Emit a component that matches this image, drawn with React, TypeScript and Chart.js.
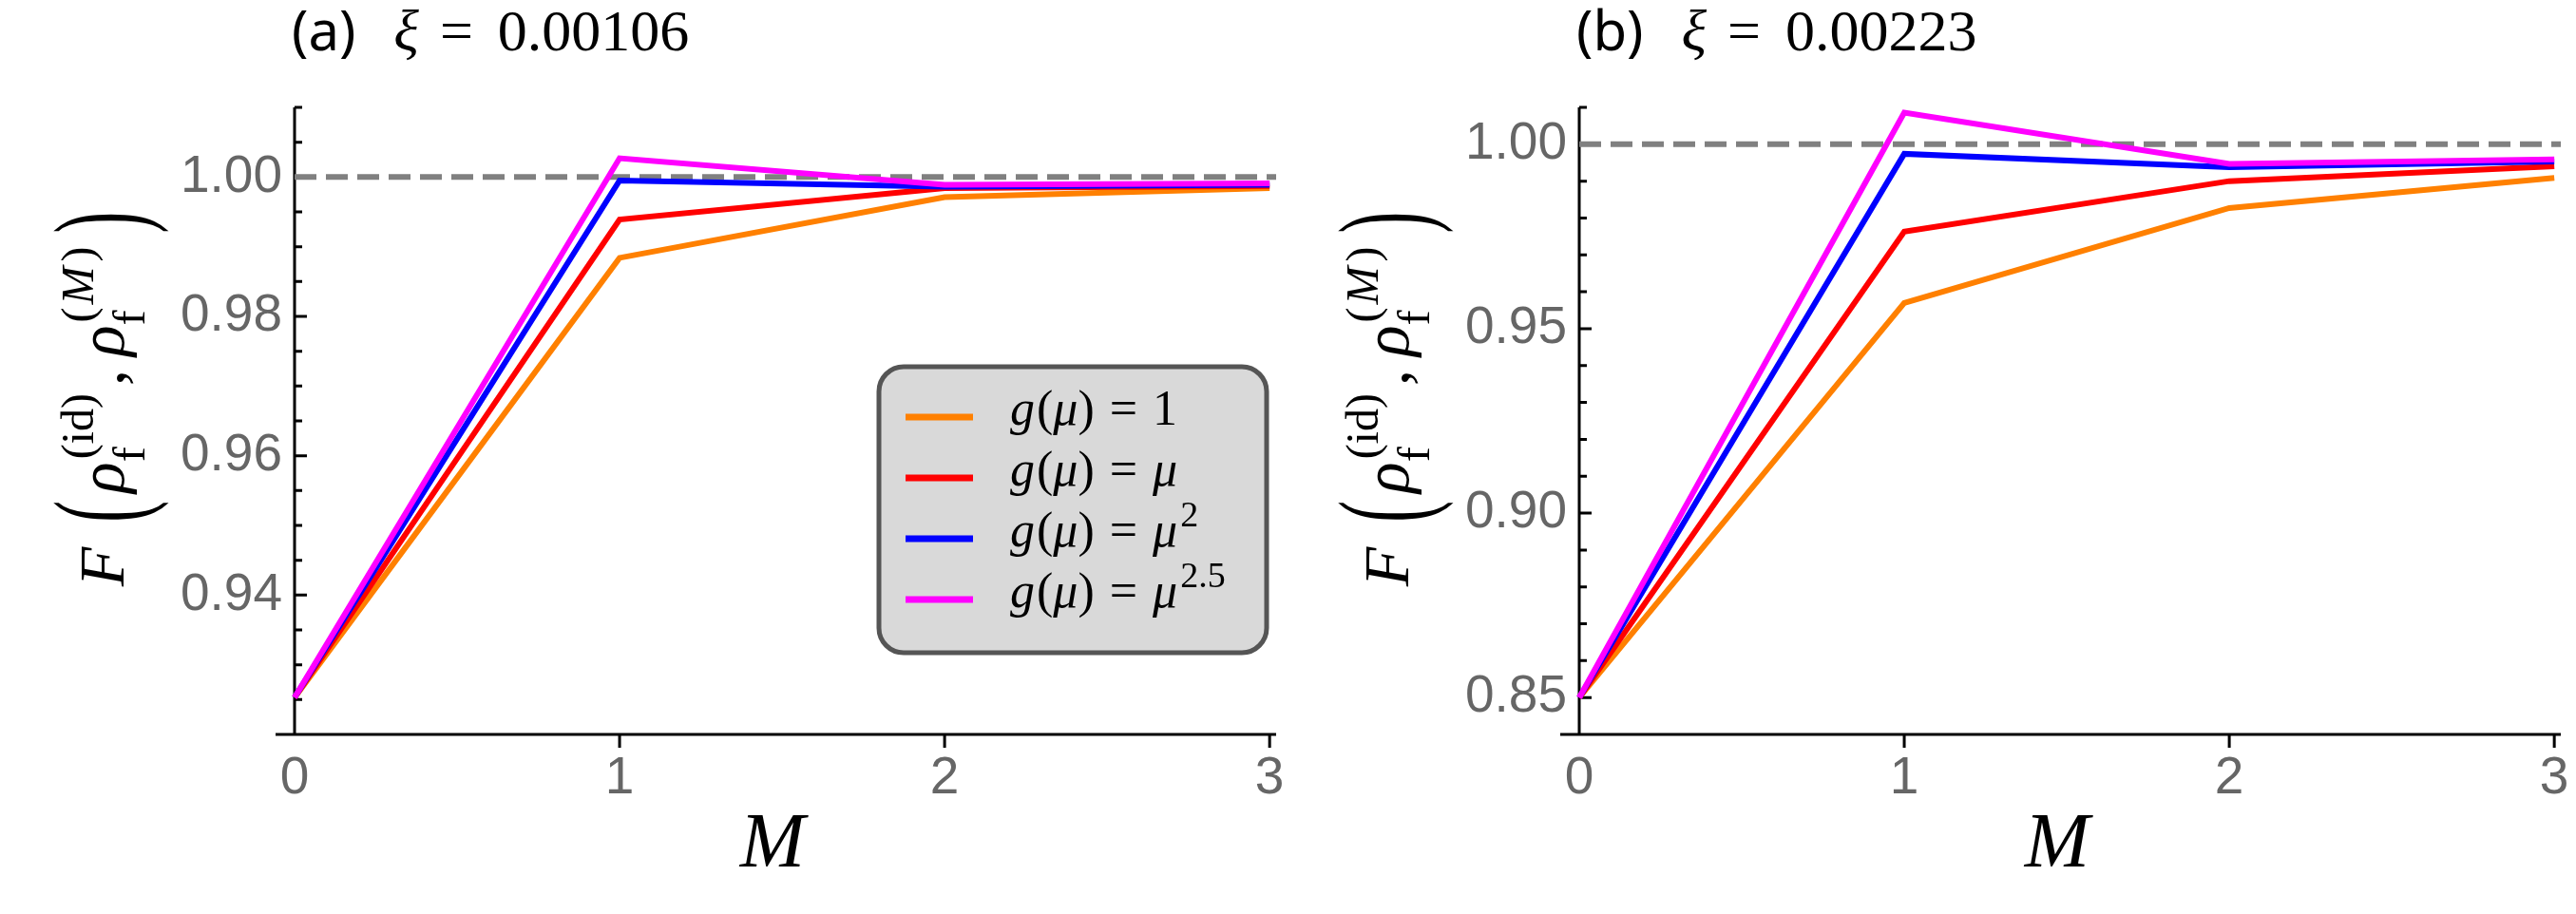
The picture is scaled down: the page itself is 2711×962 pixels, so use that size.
import { useEffect, useRef } from 'react'
import { Chart, registerables } from 'chart.js'
import type { ChartConfiguration, Plugin } from 'chart.js'

Chart.register(...registerables)

// number of ancilla rounds M
const M_VALUES = [0, 1, 2, 3]
const X_TICKS = [0, 1, 2, 3]

const SERIES_NAMES = ['g(μ) = 1', 'g(μ) = μ', 'g(μ) = μ^2', 'g(μ) = μ^2.5']
const SERIES_BASE = ['1', 'μ', 'μ', 'μ']
const SERIES_POWER = ['', '', '2', '2.5']
const SERIES_COLORS = ['#ff8000', '#ff0000', '#0000ff', '#ff00ff']

// panel (a), xi = 0.00106
const FID_A_G1 = [0.9253, 0.9884, 0.9971, 0.9984]
const FID_A_MU = [0.9253, 0.9939, 0.9984, 0.9987]
const FID_A_MU2 = [0.9253, 0.9995, 0.9986, 0.9989]
const FID_A_MU25 = [0.9253, 1.0027, 0.9989, 0.9991]
const Y_LABELS_A = [0.94, 0.96, 0.98, 1.0]

// panel (b), xi = 0.00223
const FID_B_G1 = [0.85, 0.957, 0.9827, 0.9909]
const FID_B_MU = [0.85, 0.9763, 0.99, 0.994]
const FID_B_MU2 = [0.85, 0.9974, 0.9938, 0.9953]
const FID_B_MU25 = [0.85, 1.0086, 0.9947, 0.9959]
const Y_LABELS_B = [0.85, 0.9, 0.95, 1.0]

const REFERENCE = 1

const CANVAS_W = 1370
const CANVAS_H = 962
const PLOT_TOP = 113
const PLOT_BOTTOM = 773
const X_AXIS_H = 100

const SERIF = '"Liberation Serif", "DejaVu Serif", serif'
const SANS = '"Liberation Sans", Arial, sans-serif'
const it = (s: number) => `italic ${s}px ${SERIF}`
const rm = (s: number) => `${s}px ${SERIF}`

type Panel = {
  tag: string
  xi: string
  series: number[][]
  yMin: number
  yMax: number
  yStep: number
  yLabels: number[]
  canvasLeft: number
  plotLeft: number
  plotRight: number
  legend: boolean
}

const PANELS: Panel[] = [
  {
    tag: 'a',
    xi: '0.00106',
    series: [FID_A_G1, FID_A_MU, FID_A_MU2, FID_A_MU25],
    yMin: 0.92,
    yMax: 1.01,
    yStep: 0.005,
    yLabels: Y_LABELS_A,
    canvasLeft: 0,
    plotLeft: 310,
    plotRight: 1343,
    legend: true,
  },
  {
    tag: 'b',
    xi: '0.00223',
    series: [FID_B_G1, FID_B_MU, FID_B_MU2, FID_B_MU25],
    yMin: 0.84,
    yMax: 1.01,
    yStep: 0.01,
    yLabels: Y_LABELS_B,
    canvasLeft: 1350,
    plotLeft: 312,
    plotRight: 1345,
    legend: false,
  },
]

type Txt = { s: string; f: string; gap?: number; dv?: number }

function runWidth(ctx: CanvasRenderingContext2D, run: Txt[]) {
  let w = 0
  for (const p of run) {
    ctx.font = p.f
    w += (p.gap ?? 0) + ctx.measureText(p.s).width
  }
  return w
}

function drawRun(ctx: CanvasRenderingContext2D, run: Txt[], x: number, y: number) {
  let cx = x
  for (const p of run) {
    cx += p.gap ?? 0
    ctx.font = p.f
    ctx.fillText(p.s, cx, y + (p.dv ?? 0))
    cx += ctx.measureText(p.s).width
  }
  return cx
}

// F( rho_f^(id), rho_f^(M) ) written bottom-to-top
function drawYLabel(ctx: CanvasRenderingContext2D, bx: number, cy: number) {
  type Block = { w: number; draw: (u: number) => void }
  const blocks: Block[] = []
  const text = (run: Txt[]) => {
    blocks.push({ w: runWidth(ctx, run), draw: (u) => drawRun(ctx, run, u, 0) })
  }
  const bigParen = (ch: string, gap: number) => {
    ctx.font = rm(68)
    const w = ctx.measureText(ch).width
    blocks.push({
      w: w + gap,
      draw: (u) => {
        ctx.save()
        ctx.translate(u + gap, -14)
        ctx.scale(1, 1.95)
        ctx.font = rm(68)
        ctx.fillText(ch, 0, 17)
        ctx.restore()
      },
    })
  }
  const scripts = (sup: Txt[], sub: Txt[]) => {
    const w = Math.max(runWidth(ctx, sup), runWidth(ctx, sub))
    blocks.push({
      w: w + 3,
      draw: (u) => {
        drawRun(ctx, sup, u + 3, -32)
        drawRun(ctx, sub, u, 22)
      },
    })
  }

  text([{ s: 'F', f: it(68) }])
  bigParen('(', 26)
  text([{ s: 'ρ', f: it(68), gap: 8 }])
  scripts([{ s: '(id)', f: rm(48) }], [{ s: 'f', f: rm(48) }])
  text([{ s: ',', f: rm(68), gap: 8 }])
  text([{ s: 'ρ', f: it(68), gap: 14 }])
  scripts(
    [
      { s: '(', f: rm(48) },
      { s: 'M', f: it(48), gap: 3 },
      { s: ')', f: rm(48), gap: 5 },
    ],
    [{ s: 'f', f: rm(48) }],
  )
  bigParen(')', 14)

  const total = blocks.reduce((s, b) => s + b.w, 0)
  ctx.save()
  ctx.translate(bx, cy)
  ctx.rotate(-Math.PI / 2)
  ctx.fillStyle = '#000'
  ctx.textBaseline = 'alphabetic'
  let u = -total / 2
  for (const b of blocks) {
    b.draw(u)
    u += b.w
  }
  ctx.restore()
}

function drawLegend(ctx: CanvasRenderingContext2D) {
  ctx.save()
  ctx.beginPath()
  ctx.roundRect(925, 386, 408, 301, 26)
  ctx.fillStyle = '#d9d9d9'
  ctx.fill()
  ctx.lineWidth = 5
  ctx.strokeStyle = '#555555'
  ctx.stroke()
  ctx.textBaseline = 'alphabetic'
  SERIES_NAMES.forEach((_, i) => {
    const y = 439 + i * 64
    ctx.strokeStyle = SERIES_COLORS[i]
    ctx.lineWidth = 7
    ctx.beginPath()
    ctx.moveTo(953, y)
    ctx.lineTo(1024, y)
    ctx.stroke()
    const base = SERIES_BASE[i]
    const run: Txt[] = [
      { s: 'g', f: it(52) },
      { s: '(', f: rm(52), gap: 2 },
      { s: 'μ', f: it(52) },
      { s: ')', f: rm(52) },
      { s: '=', f: rm(52), gap: 16 },
      { s: base, f: base === 'μ' ? it(52) : rm(52), gap: 16 },
    ]
    if (SERIES_POWER[i]) run.push({ s: SERIES_POWER[i], f: rm(38), gap: 3, dv: -21 })
    ctx.fillStyle = '#000'
    drawRun(ctx, run, 1063, y + 8)
  })
  ctx.restore()
}

function decorPlugin(p: Panel): Plugin<'line'> {
  return {
    id: 'decor_' + p.tag,
    beforeDatasetsDraw(chart) {
      const { ctx, chartArea: a } = chart
      const xs = chart.scales.x
      const ys = chart.scales.y
      ctx.save()
      ctx.strokeStyle = '#000'
      ctx.lineWidth = 3
      ctx.lineCap = 'butt'
      ctx.beginPath()
      ctx.moveTo(a.left - 20, a.bottom)
      ctx.lineTo(a.right, a.bottom)
      ctx.moveTo(a.left, a.top)
      ctx.lineTo(a.left, a.bottom)
      for (const t of ys.ticks) {
        if (t.value <= p.yMin + 1e-9) continue
        const y = ys.getPixelForValue(t.value)
        const len = t.label ? 13 : 8
        ctx.moveTo(a.left, y)
        ctx.lineTo(a.left + len, y)
      }
      for (const v of X_TICKS) {
        if (v === 0) continue
        const x = xs.getPixelForValue(v)
        ctx.moveTo(x, a.bottom)
        ctx.lineTo(x, a.bottom + 14)
      }
      ctx.stroke()

      const yr = ys.getPixelForValue(REFERENCE)
      ctx.strokeStyle = '#808080'
      ctx.lineWidth = 6
      ctx.setLineDash([23, 10])
      ctx.beginPath()
      ctx.moveTo(a.left, yr)
      ctx.lineTo(a.right, yr)
      ctx.stroke()
      ctx.restore()
    },
    afterDraw(chart) {
      const { ctx, chartArea: a } = chart
      ctx.save()
      ctx.fillStyle = '#000'
      ctx.textBaseline = 'alphabetic'
      drawRun(
        ctx,
        [
          { s: `(${p.tag})`, f: `58px "Noto Sans", "DejaVu Sans", sans-serif` },
          { s: 'ξ', f: it(62), gap: 40 },
          { s: '=', f: rm(62), gap: 22 },
          { s: p.xi, f: rm(62), gap: 26 },
        ],
        a.left - 3,
        53,
      )
      ctx.font = it(82)
      ctx.textAlign = 'center'
      ctx.fillText('M', a.left + 503, 912)
      ctx.textAlign = 'left'
      ctx.restore()

      drawYLabel(ctx, a.left - 180, 420)
      if (p.legend) drawLegend(ctx)
    },
  }
}

function FidelityPanel({ panel }: { panel: Panel }) {
  const canvasRef = useRef<HTMLCanvasElement>(null)

  useEffect(() => {
    const canvas = canvasRef.current
    if (!canvas) return

    const isLabel = (v: number) => panel.yLabels.some((l) => Math.abs(l - v) < 1e-6)

    const config: ChartConfiguration<'line'> = {
      type: 'line',
      data: {
        datasets: panel.series.map((vals, i) => ({
          label: SERIES_NAMES[i],
          data: M_VALUES.map((m, j) => ({ x: m, y: vals[j] })),
          borderColor: SERIES_COLORS[i],
          borderWidth: 6,
          borderJoinStyle: 'miter' as const,
          pointRadius: 0,
          tension: 0,
          fill: false,
          clip: false as const,
          order: SERIES_NAMES.length - i,
        })),
      },
      options: {
        responsive: false,
        devicePixelRatio: 1,
        animation: false,
        layout: {
          padding: {
            left: 0,
            top: PLOT_TOP,
            right: CANVAS_W - panel.plotRight,
            bottom: CANVAS_H - PLOT_BOTTOM - X_AXIS_H,
          },
        },
        plugins: {
          legend: { display: false },
          tooltip: { enabled: false },
          title: { display: false },
        },
        scales: {
          x: {
            type: 'linear',
            min: 0,
            max: 3.02,
            afterFit: (s) => {
              s.height = X_AXIS_H
            },
            grid: { display: false, drawTicks: false },
            border: { display: false },
            ticks: {
              stepSize: 1,
              includeBounds: false,
              autoSkip: false,
              maxRotation: 0,
              padding: 14,
              color: '#666666',
              font: { family: SANS, size: 55 },
              callback: (v) => (X_TICKS.includes(Number(v)) ? String(v) : ''),
            },
          },
          y: {
            type: 'linear',
            min: panel.yMin,
            max: panel.yMax,
            afterFit: (s) => {
              s.width = panel.plotLeft
            },
            grid: { display: false, drawTicks: false },
            border: { display: false },
            ticks: {
              stepSize: panel.yStep,
              includeBounds: false,
              autoSkip: false,
              maxTicksLimit: 100,
              padding: 13,
              color: '#666666',
              font: { family: SANS, size: 55 },
              callback: (v) => (isLabel(Number(v)) ? Number(v).toFixed(2) : ''),
            },
          },
        },
      },
      plugins: [decorPlugin(panel)],
    }

    const chart = new Chart(canvas, config)
    return () => chart.destroy()
  }, [panel])

  return (
    <canvas
      ref={canvasRef}
      width={CANVAS_W}
      height={CANVAS_H}
      style={{ position: 'absolute', left: panel.canvasLeft, top: 0, width: CANVAS_W, height: CANVAS_H }}
    />
  )
}

export default function App() {
  return (
    <div
      style={{
        position: 'absolute',
        left: 0,
        top: 0,
        width: 2711,
        height: 962,
        overflow: 'hidden',
        background: '#fff',
      }}
    >
      {PANELS.map((p) => (
        <FidelityPanel key={p.tag} panel={p} />
      ))}
    </div>
  )
}
